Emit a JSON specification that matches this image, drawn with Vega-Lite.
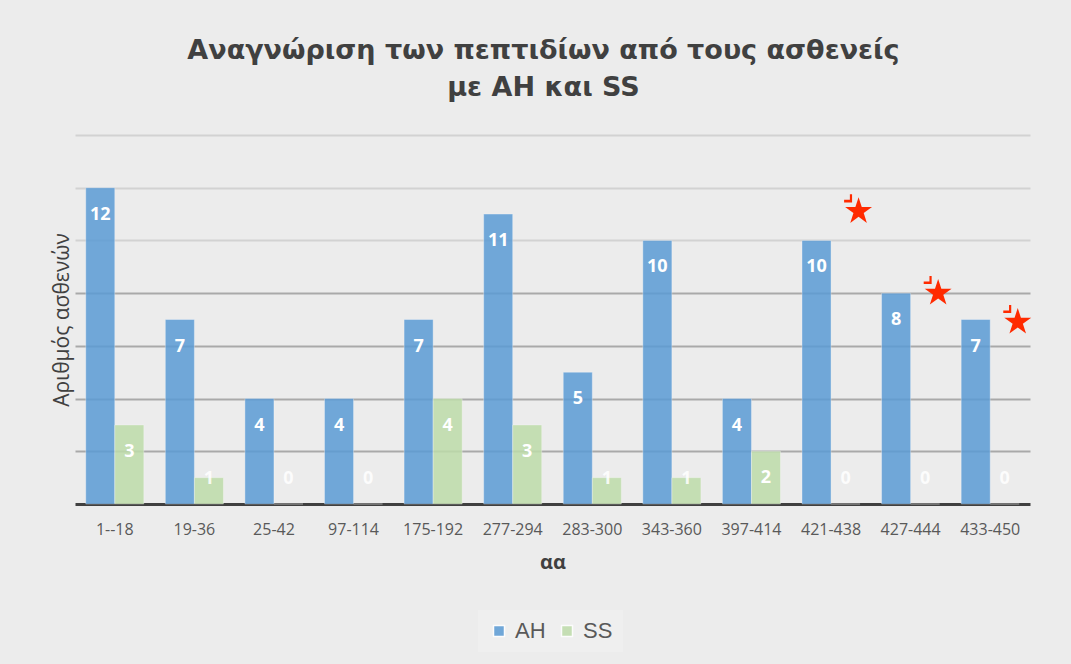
{
  "$schema": "https://vega.github.io/schema/vega-lite/v6.json",
  "width": 955,
  "height": 369,
  "autosize": {"type": "none"},
  "padding": {"left": 75, "top": 135, "right": 41, "bottom": 160},
  "background": "#ececec",
  "config": {"view": {"stroke": null}},
  "title": {
    "text": ["Αναγνώριση των πεπτιδίων από τους ασθενείς", "με AH και SS"],
    "font": "DejaVu Sans",
    "fontSize": 27,
    "fontWeight": "bold",
    "color": "#404040",
    "anchor": "middle",
    "lineHeight": 37,
    "offset": 33,
    "dx": -9
  },
  "datasets": {
    "bars": [
      {"aa": "1--18", "group": "AH", "n": 12}, {"aa": "1--18", "group": "SS", "n": 3},
      {"aa": "19-36", "group": "AH", "n": 7}, {"aa": "19-36", "group": "SS", "n": 1},
      {"aa": "25-42", "group": "AH", "n": 4}, {"aa": "25-42", "group": "SS", "n": 0},
      {"aa": "97-114", "group": "AH", "n": 4}, {"aa": "97-114", "group": "SS", "n": 0},
      {"aa": "175-192", "group": "AH", "n": 7}, {"aa": "175-192", "group": "SS", "n": 4},
      {"aa": "277-294", "group": "AH", "n": 11}, {"aa": "277-294", "group": "SS", "n": 3},
      {"aa": "283-300", "group": "AH", "n": 5}, {"aa": "283-300", "group": "SS", "n": 1},
      {"aa": "343-360", "group": "AH", "n": 10}, {"aa": "343-360", "group": "SS", "n": 1},
      {"aa": "397-414", "group": "AH", "n": 4}, {"aa": "397-414", "group": "SS", "n": 2},
      {"aa": "421-438", "group": "AH", "n": 10}, {"aa": "421-438", "group": "SS", "n": 0},
      {"aa": "427-444", "group": "AH", "n": 8}, {"aa": "427-444", "group": "SS", "n": 0},
      {"aa": "433-450", "group": "AH", "n": 7}, {"aa": "433-450", "group": "SS", "n": 0}
    ],
    "stars": [
      {"aa": "421-438", "group": "SS", "n": 11.1},
      {"aa": "427-444", "group": "SS", "n": 8.0},
      {"aa": "433-450", "group": "SS", "n": 6.9}
    ]
  },
  "layer": [
    {
      "data": {"name": "bars"},
      "mark": {"type": "bar", "opacity": 0.85, "stroke": "#ffffff", "strokeOpacity": 0.35, "strokeWidth": 1},
      "encoding": {
        "x": {
          "field": "aa",
          "type": "nominal",
          "sort": null,
          "scale": {"paddingInner": 0.27, "paddingOuter": 0.135},
          "axis": {
            "title": "αα",
            "titleFont": "Open Sans",
            "titleFontSize": 20,
            "titleFontWeight": "bold",
            "titleColor": "#404040",
            "titlePadding": 15,
            "labelAngle": 0,
            "labelFont": "Open Sans",
            "labelFontSize": 16,
            "labelColor": "#595959",
            "labelPadding": 17,
            "ticks": false,
            "domainColor": "#404040",
            "domainWidth": 3
          }
        },
        "xOffset": {"field": "group", "type": "nominal", "sort": ["AH", "SS"]},
        "y": {
          "field": "n",
          "type": "quantitative",
          "scale": {"domain": [0, 14]},
          "axis": {
            "title": "Αριθμός ασθενών",
            "titleFont": "Open Sans",
            "titleFontSize": 21,
            "titleFontWeight": "normal",
            "titleColor": "#404040",
            "titlePadding": 3,
            "labels": false,
            "ticks": false,
            "domain": false,
            "values": [2, 4, 6, 8, 10, 12, 14],
            "gridWidth": 2,
            "gridColor": {"condition": {"test": "datum.value >= 10", "value": "#d2d2d2"}, "value": "#a9a9a9"}
          }
        },
        "color": {
          "field": "group",
          "type": "nominal",
          "scale": {"domain": ["AH", "SS"], "range": ["#5b9bd5", "#bedcaa"]},
          "legend": {
            "title": null,
            "orient": "none",
            "direction": "horizontal",
            "legendX": 403,
            "legendY": 475,
            "padding": 10,
            "fillColor": "#efefef",
            "symbolType": "square",
            "symbolSize": 121,
            "symbolOpacity": 0.85,
            "labelFont": "Liberation Sans",
            "labelFontSize": 22,
            "labelColor": "#595959",
            "labelOffset": 5,
            "columnPadding": 10
          }
        }
      }
    },
    {
      "data": {"name": "bars"},
      "transform": [{"filter": "datum.n >= 2"}],
      "mark": {"type": "text", "font": "Open Sans", "fontSize": 18, "fontWeight": "bold", "color": "#ffffff", "baseline": "middle", "dy": 27},
      "encoding": {
        "x": {"field": "aa", "type": "nominal", "sort": null},
        "xOffset": {"field": "group", "type": "nominal", "sort": ["AH", "SS"]},
        "y": {"field": "n", "type": "quantitative"},
        "text": {"field": "n", "type": "quantitative"}
      }
    },
    {
      "data": {"name": "bars"},
      "transform": [{"filter": "datum.n < 2"}],
      "mark": {"type": "text", "font": "Open Sans", "fontSize": 18, "fontWeight": "bold", "color": "#ffffff", "opacity": 0.85, "baseline": "middle", "dy": -25},
      "encoding": {
        "x": {"field": "aa", "type": "nominal", "sort": null},
        "xOffset": {"field": "group", "type": "nominal", "sort": ["AH", "SS"]},
        "y": {"datum": 0, "type": "quantitative"},
        "text": {"field": "n", "type": "quantitative"}
      }
    },
    {
      "data": {"name": "stars"},
      "mark": {
        "type": "point",
        "shape": "M0.92,-1 L1.145,-0.309 L1.871,-0.309 L1.283,0.118 L1.508,0.809 L0.92,0.382 L0.332,0.809 L0.557,0.118 L-0.031,-0.309 L0.6955,-0.309 Z M-0.103,-0.823 L0.305,-0.823 L0.305,-1.208 L0.46,-1.208 L0.46,-0.638 L-0.103,-0.638 Z",
        "filled": true,
        "color": "#ff2a00",
        "opacity": 1,
        "size": 800
      },
      "encoding": {
        "x": {"field": "aa", "type": "nominal", "sort": null},
        "xOffset": {"field": "group", "type": "nominal", "sort": ["AH", "SS"]},
        "y": {"field": "n", "type": "quantitative"}
      }
    }
  ]
}
